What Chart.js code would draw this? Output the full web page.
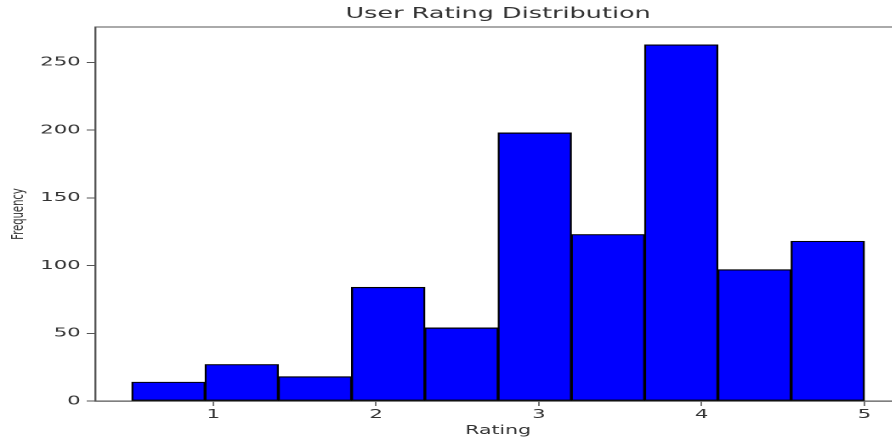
<!DOCTYPE html>
<html>
<head>
<meta charset="utf-8">
<script src="https://cdn.jsdelivr.net/npm/chart.js@4/dist/chart.umd.min.js"></script>
<style>
  html, body { margin: 0; padding: 0; background: #ffffff; overflow: hidden; }
  #wrap { position: absolute; left: 0; top: 0; width: 530px; height: 440px;
          transform: scaleX(1.7); transform-origin: 0 0; }
</style>
</head>
<body>
<div id="wrap"><canvas id="chart" width="530" height="440"></canvas></div>
<script>
// Histogram of user ratings: 10 equal-width bins between 0.5 and 5.0
const binEdges = [0.5, 0.95, 1.4, 1.85, 2.3, 2.75, 3.2, 3.65, 4.1, 4.55, 5.0];
const frequencies = [14, 27, 18, 84, 54, 198, 123, 263, 97, 118];
const xTickValues = [1, 2, 3, 4, 5];
const yTickValues = [0, 50, 100, 150, 200, 250];
const chartTitle = 'User Rating Distribution';

const FONT = "'DejaVu Sans', 'Liberation Sans', sans-serif";
const TEXT = '#333333';
const SPINE = '#555555';

const points = frequencies.map((v, i) => ({ x: (binEdges[i] + binEdges[i + 1]) / 2, y: v }));

const span = binEdges[binEdges.length - 1] - binEdges[0];
const xMin = binEdges[0] - span * 0.05;
const xMax = binEdges[binEdges.length - 1] + span * 0.05;
const yMax = Math.max(...frequencies) * 1.05;

// top frame line plus a title centred over the plot area
const frameAndTitle = {
  id: 'frameAndTitle',
  afterDraw(chart) {
    const { ctx, chartArea } = chart;
    ctx.save();
    ctx.strokeStyle = SPINE;
    ctx.lineWidth = 1.1;
    ctx.beginPath();
    ctx.moveTo(chartArea.left, chartArea.top);
    ctx.lineTo(chartArea.right, chartArea.top);
    ctx.stroke();

    ctx.fillStyle = TEXT;
    ctx.font = "15px " + FONT;
    ctx.textAlign = 'center';
    ctx.textBaseline = 'middle';
    ctx.fillText(chartTitle, (chartArea.left + chartArea.right) / 2, 14);
    ctx.restore();
  }
};

new Chart(document.getElementById('chart'), {
  type: 'bar',
  data: {
    datasets: [{
      label: 'Frequency',
      data: points,
      backgroundColor: '#0000ff',
      borderColor: '#000000',
      borderWidth: 1.2,
      borderSkipped: false,
      barPercentage: 1,
      categoryPercentage: 1
    }]
  },
  options: {
    responsive: false,
    devicePixelRatio: 2,
    animation: false,
    layout: { padding: { top: 27, left: 0, right: 0, bottom: 0 } },
    plugins: {
      legend: { display: false },
      tooltip: { enabled: false },
      title: { display: false }
    },
    scales: {
      x: {
        type: 'linear',
        min: xMin,
        max: xMax,
        offset: false,
        afterBuildTicks: s => { s.ticks = xTickValues.map(v => ({ value: v })); },
        afterFit: s => { s.height = 39; },
        ticks: {
          color: TEXT,
          font: { family: FONT, size: 12.5 },
          padding: 1,
          maxRotation: 0,
          autoSkip: false,
          callback: v => String(v)
        },
        grid: { display: true, offset: false, drawOnChartArea: false, drawTicks: true, tickLength: 5, color: SPINE, lineWidth: 0.8 },
        border: { display: true, color: SPINE, width: 1.2 },
        title: {
          display: true,
          text: 'Rating',
          color: TEXT,
          font: { family: FONT, size: 12 },
          padding: { top: 0, bottom: 1.8 }
        }
      },
      y: {
        min: 0,
        max: yMax,
        afterBuildTicks: s => { s.ticks = yTickValues.map(v => ({ value: v })); },
        afterFit: s => { s.width = 56; },
        ticks: {
          color: TEXT,
          font: { family: FONT, size: 12.5 },
          padding: 3.5,
          autoSkip: false,
          callback: v => String(v)
        },
        grid: { display: true, offset: false, drawOnChartArea: false, drawTicks: true, tickLength: 5, color: SPINE, lineWidth: 1 },
        border: { display: true, color: SPINE, width: 1.2 },
        title: {
          display: true,
          text: 'Frequency',
          color: TEXT,
          font: { family: FONT, size: 10 },
          padding: { top: 4.9, bottom: 0 }
        }
      }
    }
  },
  plugins: [frameAndTitle]
});
</script>
</body>
</html>
